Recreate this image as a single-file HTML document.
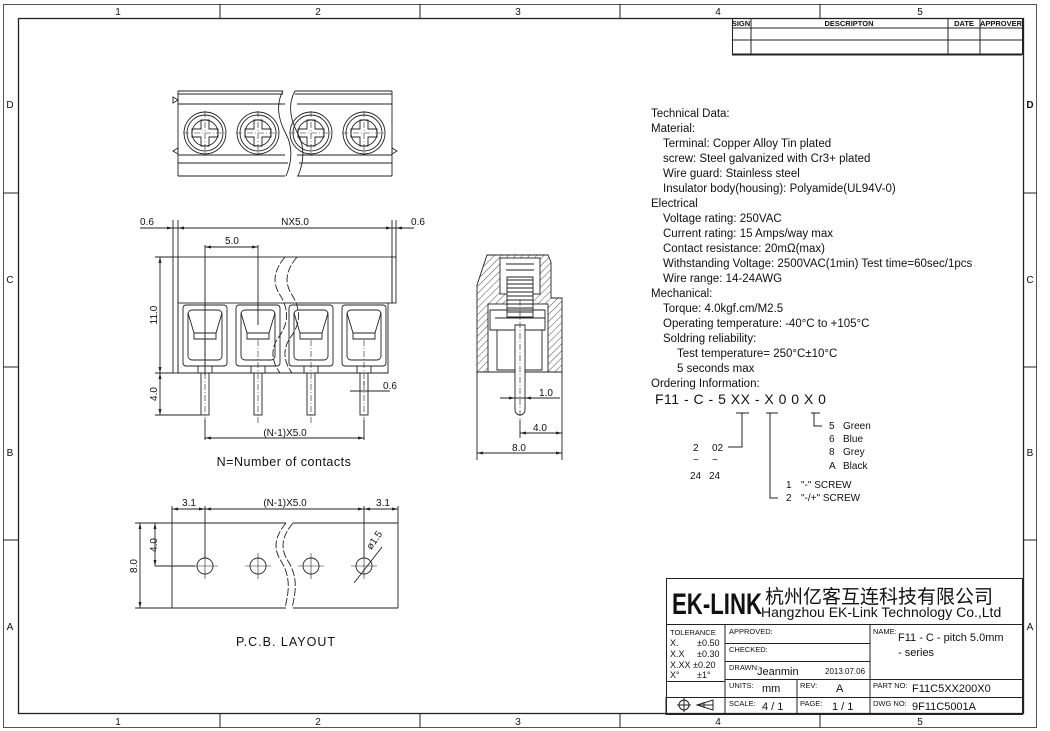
<!DOCTYPE html>
<html><head><meta charset="utf-8"><style>
html,body{margin:0;padding:0;background:#fff;}
svg{display:block;}
text{font-family:"Liberation Sans","Noto Sans CJK SC",sans-serif;fill:#111;}
</style></head><body>
<svg width="1050" height="731" viewBox="0 0 1050 731" xmlns="http://www.w3.org/2000/svg">
<g fill="none" stroke="#222" stroke-width="1">
<rect x="3.5" y="4.5" width="1033" height="723" stroke="#555"/>
<rect x="18.5" y="18.5" width="1005" height="695" stroke-width="1.3"/>
<path d="M220 4v14M420 4v14M620 4v14M820 4v14M220 714v14M420 714v14M620 714v14M820 714v14M3 193h15M3 367h15M3 540h15M1024 193h13M1024 367h13M1024 540h13"/>
<rect x="732.5" y="18.5" width="290" height="36"/>
<path d="M732 28h290M732 40h290M751 18v36M948 18v36M980 18v36"/>
<path d="M732 54.5h290" stroke-width="2"/>
</g>
<g font-size="10" text-anchor="middle">
<text x="118" y="15">1</text><text x="318" y="15">2</text><text x="518" y="15">3</text><text x="718" y="15">4</text><text x="920" y="15">5</text>
<text x="118" y="725">1</text><text x="318" y="725">2</text><text x="518" y="725">3</text><text x="718" y="725">4</text><text x="920" y="725">5</text>
<text x="10" y="108">D</text><text x="10" y="283">C</text><text x="10" y="456">B</text><text x="10" y="630">A</text>
<text x="1030" y="108" font-weight="bold">D</text><text x="1030" y="283">C</text><text x="1030" y="456">B</text><text x="1030" y="630">A</text>
</g>
<g font-size="7.5" font-weight="bold" text-anchor="middle">
<text x="741" y="26">SIGN</text><text x="849" y="26">DESCRIPTON</text><text x="964" y="26">DATE</text><text x="1001" y="26">APPROVER</text>
</g>

<g fill="none" stroke="#222" stroke-width="0.9">
<path d="M178 91h105M295 91h97M178 176h107M297 176h95M178 91v85M392 91v85"/>
<path d="M178 94h105M295 94h97M178 104h107M297 104h95M178 155h107M297 155h95M178 163h110M299 163h93"/>
<path d="M283 91c-8 14 -4 30 3 43c7 13 6 28 0 42M295 91c-8 14 -4 30 3 43c7 13 6 28 0 42" />
<path d="M173 97l5 3-5 3zM178 100v2M178 148l-5 3 5 3zM392 148l5 3-5 3z"/>
<g id="scr"><circle cx="205" cy="133" r="21"/><circle cx="205" cy="133" r="18"/><circle cx="205" cy="133" r="13"/>
<path d="M201 120h8v9h9v8h-9v9h-8v-9h-9v-8h9z"/>
<path d="M183 133h44M205 111v44" stroke-dasharray="6 2 1 2" stroke-width="0.6"/></g>
<use href="#scr" x="53"/><use href="#scr" x="106"/><use href="#scr" x="159"/>
</g>

<g fill="none" stroke="#222" stroke-width="0.9">
<rect x="178" y="257" width="214" height="46"/>
<rect x="392" y="257" width="4" height="46"/>
<rect x="173" y="257" width="5" height="116"/>
<path d="M178 303v70h210v-70"/>
<path d="M285 257c-10 12-14 24-5 38c10 16 8 30 -2 43c-8 12 -6 24 2 35M297 257c-10 12-14 24-5 38c10 16 8 30 -2 43c-8 12 -6 24 2 35" stroke-dasharray="8 2"/>
<g id="pk"><rect x="183" y="305" width="44" height="61" rx="3"/><rect x="188" y="310" width="34" height="50" rx="4"/>
<path d="M188 313l6 20h22l6-20M194 333v6h22v-6M194 339h22"/>
<rect x="201" y="373" width="8" height="42"/><path d="M205 340v85" stroke-dasharray="6 2 1 2" stroke-width="0.6"/><path d="M198 366v7M212 366v7"/></g>
<use href="#pk" x="53"/><use href="#pk" x="106"/><use href="#pk" x="159"/>
<path d="M140 228h274M173 220v37M178 220v37M392 220v37M396 220v37"/>
<path d="M205 247h53M205 245v130M258 245v80"/>
<path d="M155 257h18M155 373h18M155 415h46M160 257v158"/>
<path d="M205 420v20M364 420v20M205 438h159"/>
<path d="M350 391h40M364 385v-4"/>
</g>
<g fill="#222">
<path d="M173 228l-6-1.5v3zM178 228l6-1.5v3zM392 228l-6-1.5v3zM396 228l6-1.5v3zM205 247l6-1.5v3zM258 247l-6-1.5v3zM205 438l6-1.5v3zM364 438l-6-1.5v3zM160 257l-1.5 6h3zM160 373l-1.5-6h3zM160 373l-1.5 6h3zM160 415l-1.5-6h3z"/>
</g>
<g font-size="10" text-anchor="middle">
<text x="147" y="225">0.6</text><text x="295" y="225">NX5.0</text><text x="418" y="225">0.6</text>
<text x="232" y="244">5.0</text><text x="390" y="389">0.6</text><text x="285" y="436">(N-1)X5.0</text>
<text transform="translate(157,315) rotate(-90)">11.0</text><text transform="translate(157,394) rotate(-90)">4.0</text>
</g>
<text x="284" y="466" font-size="12.5" text-anchor="middle" letter-spacing="0.5">N=Number of contacts</text>

<defs><pattern id="h" width="5" height="5" patternUnits="userSpaceOnUse" patternTransform="rotate(45)"><path d="M0 0v5" stroke="#222" stroke-width="0.8"/></pattern></defs>
<g stroke="#222" stroke-width="0.9">
<path d="M487 255h61l3 7v36h11v74h-85v-87z" fill="url(#h)"/>
<rect x="500" y="258" width="40" height="36" fill="#fff"/>
<rect x="488" y="304" width="60" height="68" fill="#fff"/>
<path d="M506 264h28M506 270h28" fill="none"/>
<path d="M507 277h26v40h-26z" fill="#fff"/>
<path d="M507 280h26M507 284h26M507 288h26M507 292h26M507 296h26M507 300h26M507 304h26M507 308h26M507 312h26" fill="none"/>
<path d="M477 372h85" fill="none"/>
<path d="M490 310h55v20h-55z M495 318h50" fill="none"/>
<path d="M497 330h45v40h-45z" fill="none"/>
<path d="M515 325h10v85a5 5 0 0 1-10 0z" fill="#fff"/>
<path d="M520 300v120" fill="none" stroke-dasharray="6 2 1 2" stroke-width="0.6"/>
<path d="M477 372v88M562 372v88M520 420v18M477 453h85M520 433h42M500 398h60" fill="none"/>
</g>
<g fill="#222"><path d="M477 453l6-1.5v3zM562 453l-6-1.5v3zM520 433l6-1.5v3zM562 433l-6-1.5v3zM515 398l-6-1.5v3zM525 398l6-1.5v3z"/></g>
<g font-size="10" text-anchor="middle"><text x="546" y="396">1.0</text><text x="540" y="431">4.0</text><text x="519" y="451">8.0</text></g>

<g fill="none" stroke="#222" stroke-width="0.9">
<path d="M172 523h114M293 523h105M172 608h114M293 608h105M172 523v85M398 523v85"/>
<path d="M286 523c-10 12-14 24-5 38c10 16 8 30 4 47M293 523c-10 12-14 24-5 38c10 16 8 30 4 47" stroke-dasharray="8 2"/>
<g id="hl"><circle cx="205" cy="566" r="8"/><path d="M192 566h26M205 553v26" stroke-width="0.6"/></g>
<use href="#hl" x="53"/><use href="#hl" x="106"/><use href="#hl" x="159"/>
<path d="M172 506v17M205 506v52M364 506v52M398 506v17M172 509h226"/>
<path d="M135 523h37M135 608h37M155 523v43M140 523v85M155 566h40"/>
<path d="M354 583l28-36"/>
</g>
<g fill="#222"><path d="M172 509l6-1.5v3zM205 509l-6-1.5v3zM205 509l6-1.5v3zM364 509l-6-1.5v3zM364 509l6-1.5v3zM398 509l-6-1.5v3zM140 523l-1.5 6h3zM140 608l-1.5-6h3zM155 523l-1.5 6h3zM155 566l-1.5-6h3z"/></g>
<g font-size="10" text-anchor="middle">
<text x="189" y="506">3.1</text><text x="285" y="506">(N-1)X5.0</text><text x="383" y="506">3.1</text>
<text transform="translate(137,566) rotate(-90)">8.0</text><text transform="translate(157,545) rotate(-90)">4.0</text>
<text transform="translate(377,542) rotate(-55)">ø1.5</text>
</g>
<text x="286" y="646" font-size="12.5" text-anchor="middle" letter-spacing="1">P.C.B. LAYOUT</text>

<g font-size="11.5">
<text x="651" y="117">Technical Data:</text>
<text x="651" y="132">Material:</text>
<text x="663" y="147">Terminal: Copper Alloy Tin plated</text>
<text x="663" y="162">screw: Steel galvanized with Cr3+ plated</text>
<text x="663" y="177">Wire guard: Stainless steel</text>
<text x="663" y="192">Insulator body(housing): Polyamide(UL94V-0)</text>
<text x="651" y="207">Electrical</text>
<text x="663" y="222">Voltage rating: 250VAC</text>
<text x="663" y="237">Current rating: 15 Amps/way max</text>
<text x="663" y="252">Contact resistance: 20mΩ(max)</text>
<text x="663" y="267">Withstanding Voltage: 2500VAC(1min) Test time=60sec/1pcs</text>
<text x="663" y="282">Wire range: 14-24AWG</text>
<text x="651" y="297">Mechanical:</text>
<text x="663" y="312">Torque: 4.0kgf.cm/M2.5</text>
<text x="663" y="327">Operating temperature: -40°C to +105°C</text>
<text x="663" y="342">Soldring reliability:</text>
<text x="677" y="357">Test temperature= 250°C±10°C</text>
<text x="677" y="372">5 seconds max</text>
<text x="651" y="387">Ordering Information:</text>
</g>
<text x="655" y="404" font-size="14" letter-spacing="0.5">F11 - C - 5 XX - X 0  0 X  0</text>
<g fill="none" stroke="#222" stroke-width="1">
<path d="M736 413h13M742 413v34h-14M766 413h12M770 413v85h8M811 413h9M814 413v13h8"/>
</g>
<g font-size="10">
<text x="693" y="451">2</text><text x="712" y="451">02</text>
<text x="693" y="463">~</text><text x="712" y="463">~</text>
<text x="690" y="479">24</text><text x="709" y="479">24</text>
<text x="829" y="429">5</text><text x="843" y="429">Green</text>
<text x="829" y="442">6</text><text x="843" y="442">Blue</text>
<text x="829" y="455">8</text><text x="843" y="455">Grey</text>
<text x="829" y="469">A</text><text x="843" y="469">Black</text>
<text x="786" y="488">1</text><text x="801" y="488">"-" SCREW</text>
<text x="786" y="501">2</text><text x="801" y="501">"-/+" SCREW</text>
</g>

<g fill="none" stroke="#222" stroke-width="1">
<rect x="666.5" y="578.5" width="356" height="136"/>
<path d="M666 624.5h356M725 624v91M870 624v91M725 643.5h145M725 661.5h145M725 679.5h297M666 681.5h59M666 697.5h356M797 679v36M666 697v18"/>
</g>
<text x="672" y="614" font-size="30" font-weight="bold" textLength="90" lengthAdjust="spacingAndGlyphs">EK-LINK</text>
<text x="765" y="603" font-size="19" style="font-family:'Liberation Sans','WenQuanYi Zen Hei','Noto Sans CJK SC',sans-serif">杭州亿客互连科技有限公司</text>
<text x="761" y="617" font-size="14">Hangzhou EK-Link Technology Co.,Ltd</text>
<g font-size="7.5">
<text x="670" y="635">TOLERANCE</text>
<text x="729" y="634">APPROVED:</text>
<text x="729" y="652">CHECKED:</text>
<text x="729" y="670">DRAWN:</text>
<text x="729" y="688">UNITS:</text><text x="800" y="688">REV:</text>
<text x="729" y="706">SCALE:</text><text x="800" y="706">PAGE:</text>
<text x="873" y="634">NAME:</text>
<text x="873" y="688">PART NO:</text><text x="873" y="706">DWG NO:</text>
</g>
<g font-size="9">
<text x="670" y="646">X.</text><text x="697" y="646">±0.50</text>
<text x="670" y="657">X.X</text><text x="697" y="657">±0.30</text>
<text x="670" y="668">X.XX ±0.20</text>
<text x="670" y="678">X°</text><text x="697" y="678">±1°</text>
<text x="825" y="674" font-size="8">2013.07.06</text>
</g>
<g font-size="11">
<text x="757" y="675">Jeanmin</text>
<text x="762" y="692">mm</text><text x="836" y="692">A</text>
<text x="762" y="710">4 / 1</text><text x="832" y="710">1 / 1</text>
<text x="898" y="641">F11 - C - pitch 5.0mm</text>
<text x="898" y="656">- series</text>
<text x="912" y="692">F11C5XX200X0</text>
<text x="912" y="710">9F11C5001A</text>
</g>
<g fill="none" stroke="#222" stroke-width="1">
<circle cx="684" cy="705" r="5"/><path d="M677 705h14M684 698v14"/>
<path d="M697 705l16-5v10zM704 702v6M697 705h16"/>
</g>
</svg>
</body></html>
